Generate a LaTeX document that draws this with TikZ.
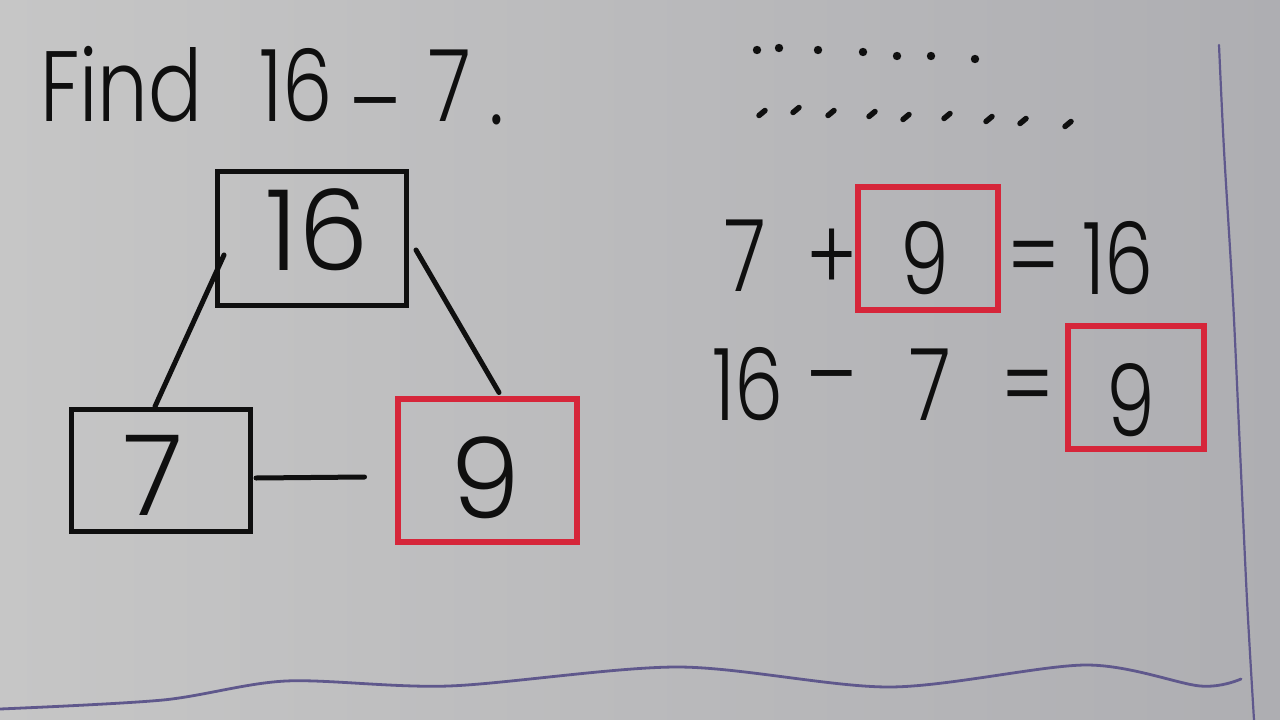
\documentclass[tikz,border=0pt]{standalone}
\usepackage{fontspec}
\setmainfont{Poppins}[UprightFont={* Light}]
\newfontfamily\titlefont{Poppins}[UprightFont={* Light},FakeStretch=0.8]
\newfontfamily\eqfont{Poppins}[UprightFont={* Light},FakeStretch=0.78]
\usetikzlibrary{calc}
\definecolor{board}{RGB}{198,198,198}
\definecolor{boardr}{RGB}{174,174,178}
\definecolor{ink}{RGB}{15,15,15}
\definecolor{redink}{RGB}{214,38,58}
\definecolor{blueink}{RGB}{95,88,140}
\tikzset{
  blackbox/.style={draw=ink, line width=5pt, rectangle, inner sep=0pt},
  redbox/.style={draw=redink, line width=6pt, rectangle, inner sep=0pt},
  digit/.style={text=ink, inner sep=0pt, anchor=base, font=\fontsize{112}{112}\selectfont},
  eqtext/.style={text=ink, inner sep=0pt, anchor=base, font=\eqfont\fontsize{100}{100}\selectfont},
  title/.style={text=ink, inner sep=0pt, anchor=base, font=\titlefont\fontsize{100}{100}\selectfont},
  link/.style={draw=ink, line width=5pt, line cap=round},
  dotrow/.style={draw=ink, line width=5.5pt, line cap=round},
  borderline/.style={draw=blueink, line width=2.2pt, line cap=round}
}
\begin{document}
\begin{tikzpicture}[x=1pt, y=-1pt]
\useasboundingbox (0,0) rectangle (1280,720);
\shade[left color=board, right color=boardr] (0,0) rectangle (1280,720);

% title
\node[title, anchor=base west] (find) at (40,121) {Find};
\node[title] (t16) at (296,121) {16};
\node[title] (tminus) at (375,137) {–};
\node[title] (t7) at (450,121) {7};
\node[title] (tdot) at (497,124) {.};

% dots
\foreach \x/\y [count=\i] in {757/50,779/48,818/50,863/52,897/56,931/56,975/59}
  \fill[ink] (\x,\y) circle (4.2);
\foreach \x/\y [count=\i] in {762/113,796/110,831/113,872/114,906/117,947/116,989/119,1023/121,1068/124}
  \draw[dotrow] (\x-3,\y+2.5) -- (\x+3,\y-2.5);

% number bond
\node[blackbox, minimum width=189pt, minimum height=134pt] (b16) at (312,238) {};
\node[digit] (n16) at (317,270) {16};
\node[blackbox, minimum width=179pt, minimum height=122pt] (b7) at (161,470) {};
\node[digit] (n7) at (153,515) {7};
\node[redbox, minimum width=179pt, minimum height=143pt] (b9) at (487,470) {};
\node[digit] (n9) at (485,518) {9};

\coordinate (hend) at ($(b9.west)+(-30,7)$);
\draw[link] ($(b16.west)+(9,17)$) -- ($(b7.north)+(-6,0)$);
\draw[link] ($(b16.east)+(7,12)$) -- ($(b9.north)+(12,-3)$);
\draw[link] ($(b7.east)+(3,8)$) -- (hend);

% equations
\node[eqtext] (e1a) at (745,291) {7};
\node[eqtext] (e1p) at (832,291) {+};
\node[redbox, minimum width=140pt, minimum height=123pt] (r1) at (928,248) {};
\node[eqtext] (e1n) at (925,294) {9};
\node[eqtext] (e1e) at (1034,291) {=};
\node[eqtext] (e1r) at (1118,294) {16};

\node[eqtext] (e2a) at (748,420) {16};
\node[eqtext] (e2m) at (832,410) {–};
\node[eqtext] (e2b) at (930,420) {7};
\node[eqtext] (e2e) at (1028,420) {=};
\node[redbox, minimum width=136pt, minimum height=123pt] (r2) at (1136,387) {};
\node[eqtext] (e2n) at (1131,436) {9};

% board edges
\draw[borderline] plot[smooth] coordinates {(1219,45) (1224,150) (1233,300) (1240,450) (1247,600) (1254,720)};
\draw[borderline, line width=2.8pt] plot[smooth] coordinates {(0,709) (163,700) (286,681) (449,686) (678,667) (890,687) (1086,665) (1200,686) (1241,679)};
\end{tikzpicture}
\end{document}
